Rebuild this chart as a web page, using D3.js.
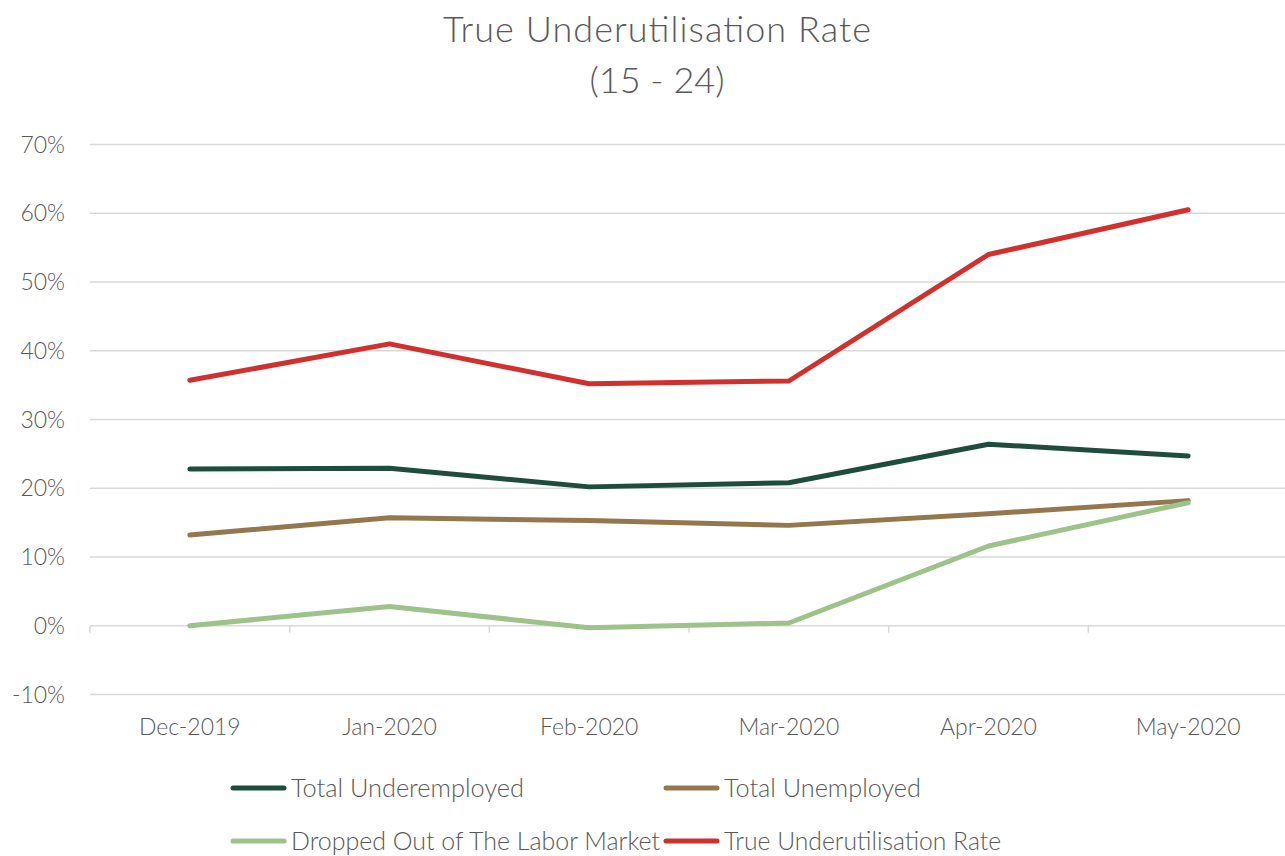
<!DOCTYPE html>
<html>
<head>
<meta charset="utf-8">
<script src="https://cdn.jsdelivr.net/npm/d3@7"></script>
<style>
  html, body { margin: 0; padding: 0; background: #fff; }
  svg { display: block; }
  text { font-family: Lato, "Open Sans", sans-serif; fill: #595959; }
</style>
</head>
<body>
<svg id="chart" width="1285" height="856"></svg>
<script>
// Months on the x axis
const months = ["Dec-2019", "Jan-2020", "Feb-2020", "Mar-2020", "Apr-2020", "May-2020"];

// Series values (percent)
const totalUnderemployed = [22.8, 22.9, 20.2, 20.8, 26.4, 24.7];
const totalUnemployed    = [13.2, 15.7, 15.3, 14.6, 16.3, 18.2];
const droppedOut         = [0.0, 2.8, -0.3, 0.4, 11.6, 17.9];
const trueUnderutil      = [35.7, 41.0, 35.2, 35.6, 54.0, 60.5];

// Y axis ticks
const yTicks = [-10, 0, 10, 20, 30, 40, 50, 60, 70];

const seriesNames = ["Total Underemployed", "Total Unemployed", "Dropped Out of The Labor Market", "True Underutilisation Rate"];
const seriesColors = ["#1e4d3f", "#94774c", "#9dc38b", "#d0312d"];
const seriesValues = [totalUnderemployed, totalUnemployed, droppedOut, trueUnderutil];

const svg = d3.select("#chart");

const x = d3.scaleBand().domain(months).range([90, 1288]);
const y = d3.scaleLinear().domain([-10, 70]).range([694.5, 144.5]);

// Title
svg.append("text").attr("x", 657).attr("y", 42).attr("text-anchor", "middle")
  .style("font-size", "36px").style("font-weight", 300)
  .attr("textLength", 428).attr("lengthAdjust", "spacing")
  .text("True Underutilisation Rate");
svg.append("text").attr("x", 657).attr("y", 93).attr("text-anchor", "middle")
  .style("font-size", "36px").style("font-weight", 300)
  .text("(15 - 24)");

// Horizontal gridlines
svg.append("g").selectAll("line").data(yTicks).join("line")
  .attr("x1", 90).attr("x2", 1285)
  .attr("y1", d => y(d)).attr("y2", d => y(d))
  .attr("stroke", "#d9d9d9").attr("stroke-width", 1.5);

// Y tick labels
svg.append("g").selectAll("text").data(yTicks).join("text")
  .attr("x", 65).attr("y", d => y(d) + 8)
  .attr("text-anchor", "end").style("font-size", "23px").style("font-weight", 300)
  .text(d => d + "%");

// Category tick marks on the zero line
const bandEdges = months.map(m => x(m)).concat([x.range()[1]]);
svg.append("g").selectAll("line").data(bandEdges).join("line")
  .attr("x1", d => d).attr("x2", d => d)
  .attr("y1", y(0)).attr("y2", y(0) + 7)
  .attr("stroke", "#d9d9d9").attr("stroke-width", 1.5);

// X labels
svg.append("g").selectAll("text").data(months).join("text")
  .attr("x", d => x(d) + x.bandwidth() / 2).attr("y", 735)
  .attr("text-anchor", "middle").style("font-size", "23px").style("font-weight", 300)
  .text(d => d);

// Lines
const line = d3.line()
  .x((d, i) => x(months[i]) + x.bandwidth() / 2)
  .y(d => y(d));

svg.append("g").selectAll("path").data(seriesValues).join("path")
  .attr("d", d => line(d))
  .attr("fill", "none")
  .attr("stroke", (d, i) => seriesColors[i])
  .attr("stroke-width", 5)
  .attr("stroke-linejoin", "round")
  .attr("stroke-linecap", "round");

// Legend
const legendPos = [
  { lx: 233, ly: 788, w: 233 },
  { lx: 666, ly: 788, w: 197 },
  { lx: 233, ly: 841, w: 369 },
  { lx: 666, ly: 841, w: 277 }
];
const lg = svg.append("g").selectAll("g").data(seriesNames).join("g")
  .attr("transform", (d, i) => `translate(${legendPos[i].lx},${legendPos[i].ly})`);
lg.append("line").attr("x1", 0).attr("x2", 51).attr("y1", 0).attr("y2", 0)
  .attr("stroke", (d, i) => seriesColors[i]).attr("stroke-width", 5)
  .attr("stroke-linecap", "round");
lg.append("text").attr("x", 58).attr("y", 9)
  .style("font-size", "25px").style("font-weight", 300)
  .attr("textLength", (d, i) => legendPos[i].w)
  .attr("lengthAdjust", "spacingAndGlyphs")
  .text(d => d);
</script>
</body>
</html>
